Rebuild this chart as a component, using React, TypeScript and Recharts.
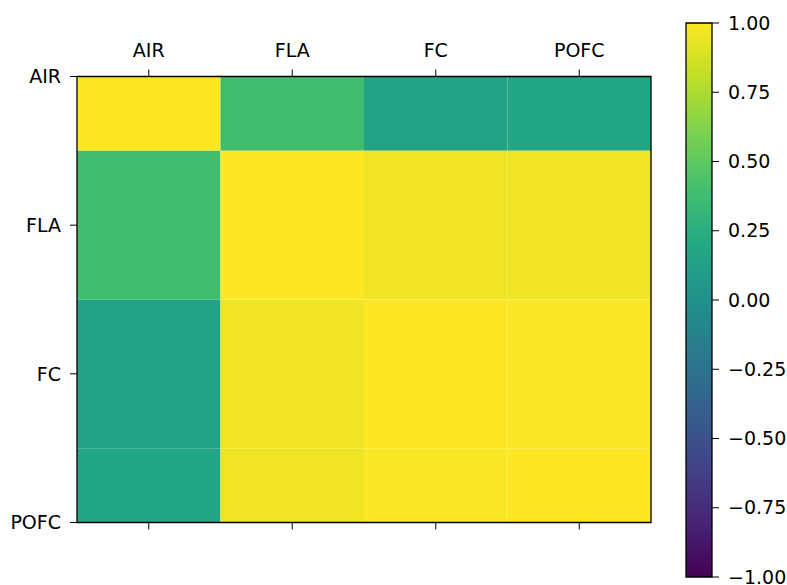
import React from 'react';
import { ComposedChart, Scatter, XAxis, YAxis, ReferenceArea } from 'recharts';

// Correlation matrix, rows/cols in label order
const labels = ['AIR', 'FLA', 'FC', 'POFC'];
const airRow = [1.0, 0.38, 0.16, 0.18];
const flaRow = [0.38, 1.0, 0.96, 0.96];
const fcRow = [0.16, 0.96, 1.0, 0.99];
const pofcRow = [0.18, 0.96, 0.99, 1.0];
const matrixRows = [airRow, flaRow, fcRow, pofcRow];
const labelTicks = [0, 1, 2, 3];
const colorbarTicks = [-1, -0.75, -0.5, -0.25, 0, 0.25, 0.5, 0.75, 1];

// viridis palette, evenly spaced stops
const viridisStops = [
  '#440154', '#482475', '#414487', '#355f8d', '#2a788e', '#21918c',
  '#22a884', '#44bf70', '#7ad151', '#bddf26', '#fde725',
];

function hexToRgb(hex: string) {
  const n = parseInt(hex.slice(1), 16);
  return [(n >> 16) & 255, (n >> 8) & 255, n & 255];
}

function viridis(t: number) {
  const c = Math.min(1, Math.max(0, t)) * (viridisStops.length - 1);
  const i = Math.min(Math.floor(c), viridisStops.length - 2);
  const f = c - i;
  const a = hexToRgb(viridisStops[i]);
  const b = hexToRgb(viridisStops[i + 1]);
  const rgb = a.map((v, k) => Math.round(v + (b[k] - v) * f));
  return `rgb(${rgb.join(',')})`;
}

// map value in [-1, 1] to a colour
const valueColor = (v: number) => viridis((v + 1) / 2);

const cells = matrixRows.flatMap((row, r) =>
  row.map((value, c) => ({ row: r, col: c, value }))
);
const barData = colorbarTicks.map((v) => ({ x: 0.5, v }));

const font = { fill: '#000', fontSize: 19, fontFamily: 'DejaVu Sans' };
const fmtBar = (v: number) => v.toFixed(2).replace('-', '\u2212');
const noShape = () => <g />;

export default function App() {
  return (
    <div style={{ position: 'absolute', left: 0, top: 0, width: 787, height: 585, background: '#fff' }}>
      <div style={{ position: 'absolute', left: 0, top: 0 }}>
        <ComposedChart
          width={787}
          height={585}
          data={cells}
          margin={{ top: 16.5, right: 136, bottom: 2.5, left: 17 }}
        >
          <XAxis
            dataKey="col"
            type="number"
            orientation="top"
            domain={[-0.5, 3.5]}
            allowDataOverflow
            ticks={labelTicks}
            interval={0}
            tickFormatter={(i: number) => labels[i]}
            height={60}
            axisLine={false}
            stroke="#000"
            tickSize={7}
            tickMargin={13}
            tick={font}
          />
          <XAxis
            xAxisId="bottom"
            dataKey="col"
            type="number"
            orientation="bottom"
            domain={[-0.5, 3.5]}
            allowDataOverflow
            ticks={labelTicks}
            interval={0}
            tickFormatter={() => ''}
            height={60}
            axisLine={false}
            stroke="#000"
            tickSize={7}
            tick={font}
          />
          <YAxis
            dataKey="row"
            type="number"
            domain={[0, 3]}
            reversed
            allowDataOverflow
            ticks={labelTicks}
            interval={0}
            tickFormatter={(i: number) => labels[i]}
            width={60}
            axisLine={false}
            stroke="#000"
            tickSize={7}
            tickMargin={9}
            tick={font}
          />
          {cells.map((d) => (
            <ReferenceArea
              key={`${d.row}-${d.col}`}
              x1={d.col - 0.5}
              x2={d.col + 0.5}
              y1={d.row - 0.5}
              y2={d.row + 0.5}
              fill={valueColor(d.value)}
              fillOpacity={1}
              stroke="none"
              ifOverflow="hidden"
            />
          ))}
          <ReferenceArea
            x1={-0.5}
            x2={3.5}
            y1={0}
            y2={3}
            fill="none"
            stroke="#000"
            strokeWidth={1.3}
            ifOverflow="visible"
          />
          <Scatter dataKey="row" shape={noShape} isAnimationActive={false} />
          <Scatter xAxisId="bottom" dataKey="row" shape={noShape} isAnimationActive={false} />
        </ComposedChart>
      </div>
      <div style={{ position: 'absolute', left: 0, top: 0 }}>
        <ComposedChart
          width={787}
          height={585}
          data={barData}
          margin={{ top: 23, right: 15, bottom: 8, left: 686 }}
        >
          <defs>
            <linearGradient id="viridisBar" x1="0" y1="1" x2="0" y2="0">
              {viridisStops.map((c, i) => (
                <stop key={c} offset={i / (viridisStops.length - 1)} stopColor={c} />
              ))}
            </linearGradient>
          </defs>
          <XAxis dataKey="x" type="number" domain={[0, 1]} allowDataOverflow hide />
          <YAxis
            dataKey="v"
            type="number"
            orientation="right"
            domain={[-1, 1]}
            allowDataOverflow
            ticks={colorbarTicks}
            interval={0}
            tickFormatter={fmtBar}
            width={60}
            axisLine={false}
            stroke="#000"
            tickSize={7}
            tickMargin={9}
            tick={font}
          />
          <ReferenceArea
            x1={0}
            x2={1}
            y1={-1}
            y2={1}
            fill="url(#viridisBar)"
            fillOpacity={1}
            stroke="#000"
            strokeWidth={1.3}
            ifOverflow="visible"
          />
          <Scatter dataKey="v" shape={noShape} isAnimationActive={false} />
        </ComposedChart>
      </div>
    </div>
  );
}
